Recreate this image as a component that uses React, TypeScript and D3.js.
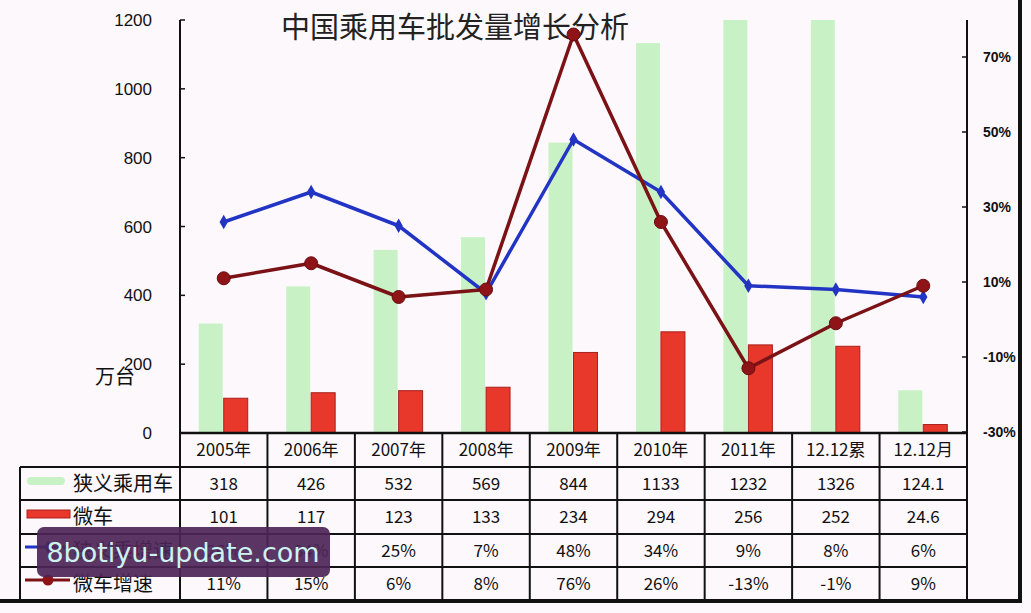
import React from "react";
import * as d3 from "d3";

const categories = ["2005年", "2006年", "2007年", "2008年", "2009年", "2010年", "2011年", "12.12累", "12.12月"];
const narrowCars = [318, 426, 532, 569, 844, 1133, 1232, 1326, 124.1];
const microCars = [101, 117, 123, 133, 234, 294, 256, 252, 24.6];
const narrowGrowth = [26, 34, 25, 7, 48, 34, 9, 8, 6];
const microGrowth = [11, 15, 6, 8, 76, 26, -13, -1, 9];
const narrowLabels = ["318", "426", "532", "569", "844", "1133", "1232", "1326", "124.1"];
const microLabels = ["101", "117", "123", "133", "234", "294", "256", "252", "24.6"];
const leftTicks = [0, 200, 400, 600, 800, 1000, 1200];
const rightTicks = [-30, -10, 10, 30, 50, 70];
const seriesNames = ["狭义乘用车", "微车", "狭义乘增速", "微车增速"];

const W = 1031, H = 613;
const L = 180, R = 967, TOP = 20, BASE = 433;
const rowY = [433, 467, 500, 534, 567, 600];

export default function App() {
  const x = d3.scaleBand<string>().domain(categories).range([L, R]).paddingInner(0).paddingOuter(0);
  const y = d3.scaleLinear().domain([0, 1200]).range([BASE, TOP]);
  const y2 = d3.scaleLinear().domain([-30, 80]).range([BASE - 1, BASE - 1 - 110 * 3.75]);
  const cx = (c: string) => (x(c) as number) + x.bandwidth() / 2;
  const bw = 24;
  const line = d3.line<number>().x((_, i) => cx(categories[i])).y((v) => y2(v));
  const font = "'Liberation Sans', Arial, sans-serif";
  const cjk = "'Noto Sans CJK SC', 'Liberation Sans', sans-serif";
  const rowCenters = rowY.slice(0, 5).map((v, i) => (v + rowY[i + 1]) / 2);
  const rows = [narrowLabels, microLabels, narrowGrowth.map((v) => v + "%"), microGrowth.map((v) => v + "%")];

  return (
    <svg width={W} height={H} style={{ position: "absolute", left: 0, top: 0 }}>
      <rect x={0} y={0} width={W} height={H} fill="#fdf8fc" />
      <defs>
        <clipPath id="plot">
          <rect x={L} y={TOP} width={R - L} height={BASE - TOP} />
        </clipPath>
      </defs>
      {/* title */}
      <text x={455} y={38} textAnchor="middle" fontFamily={cjk} fontSize={29} fill="#222">中国乘用车批发量增长分析</text>

      {/* bars */}
      <g clipPath="url(#plot)">
        {categories.map((c, i) => (
          <rect key={"g" + c} x={cx(c) - bw - 1} y={y(narrowCars[i])} width={bw} height={BASE - y(narrowCars[i])} fill="#c8f2c6" />
        ))}
      </g>
      {categories.map((c, i) => (
        <rect key={"r" + c} x={cx(c)} y={y(microCars[i])} width={bw} height={BASE - y(microCars[i])} fill="#e8372b" stroke="#a8221c" strokeWidth={1} />
      ))}

      {/* left axis */}
      <line x1={L} x2={L} y1={TOP} y2={BASE} stroke="#111" strokeWidth={2} />
      {leftTicks.map((t) => (
        <g key={"lt" + t}>
          <line x1={L} x2={L + 5} y1={y(t)} y2={y(t)} stroke="#111" strokeWidth={1.5} />
          <text x={152} y={y(t) + 6} textAnchor="end" fontFamily={font} fontSize={17} fill="#111">{t}</text>
        </g>
      ))}
      <text x={115} y={384} textAnchor="middle" fontFamily={cjk} fontSize={20} fill="#111">万台</text>

      {/* right axis */}
      <line x1={R} x2={R} y1={TOP} y2={BASE} stroke="#111" strokeWidth={2} />
      {rightTicks.map((t) => (
        <g key={"rt" + t}>
          <line x1={R - 5} x2={R} y1={y2(t)} y2={y2(t)} stroke="#111" strokeWidth={1.5} />
          <text x={983} y={y2(t) + 5} textAnchor="start" fontFamily={font} fontSize={14} fontWeight="bold" fill="#111">{t}%</text>
        </g>
      ))}

      {/* lines */}
      <path d={line(narrowGrowth) || ""} fill="none" stroke="#2234c4" strokeWidth={3.5} strokeLinejoin="round" />
      {narrowGrowth.map((v, i) => (
        <path key={"bd" + i} d={d3.symbol().type(d3.symbolDiamond).size(60)() || ""} transform={`translate(${cx(categories[i])},${y2(v)})`} fill="#2234c4" />
      ))}
      <path d={line(microGrowth) || ""} fill="none" stroke="#7a1216" strokeWidth={3.5} strokeLinejoin="round" />
      {microGrowth.map((v, i) => (
        <circle key={"mc" + i} cx={cx(categories[i])} cy={y2(v)} r={6.5} fill="#8e1418" stroke="#6a0c10" strokeWidth={1} />
      ))}

      {/* table */}
      <g stroke="#111" strokeWidth={2} fill="none">
        <line x1={L} x2={R} y1={rowY[0]} y2={rowY[0]} strokeWidth={2.5} />
        {rowY.slice(1, 5).map((yy) => (
          <line key={"h" + yy} x1={20} x2={R} y1={yy} y2={yy} />
        ))}
        <line x1={20} x2={20} y1={rowY[1]} y2={rowY[5]} />
        {categories.map((c) => (
          <line key={"v" + c} x1={x(c) as number} x2={x(c) as number} y1={rowY[0]} y2={rowY[5]} />
        ))}
        <line x1={R} x2={R} y1={rowY[0]} y2={rowY[5]} />
      </g>
      {categories.map((c) => (
        <text key={"hd" + c} x={cx(c)} y={rowCenters[0] + 6} textAnchor="middle" fontFamily={cjk} fontSize={17} fill="#111">{c}</text>
      ))}
      {rows.map((r, ri) =>
        r.map((v, i) => (
          <text key={"c" + ri + "-" + i} x={cx(categories[i])} y={rowCenters[ri + 1] + 6} textAnchor="middle" fontFamily={cjk} fontSize={17} fill="#111">{v}</text>
        ))
      )}
      {/* legend */}
      <rect x={27} y={477} width={38} height={8} rx={4} fill="#c8f2c6" />
      <rect x={27} y={510} width={43} height={8} fill="#e8372b" stroke="#a8221c" />
      <line x1={25} x2={68} y1={547} y2={547} stroke="#2234c4" strokeWidth={3} />
      <path d={d3.symbol().type(d3.symbolDiamond).size(50)() || ""} transform="translate(48,547)" fill="#2234c4" />
      <line x1={25} x2={70} y1={580} y2={580} stroke="#7a1216" strokeWidth={3} />
      <circle cx={48} cy={580} r={5.5} fill="#8e1418" />
      {seriesNames.map((n, i) => (
        <text key={"ln" + n} x={73} y={rowCenters[i + 1] + 7} fontFamily={cjk} fontSize={20} fill="#111">{n}</text>
      ))}

      {/* frame */}
      <line x1={0} x2={1022} y1={601} y2={601} stroke="#111" strokeWidth={4} />
      <line x1={1020} x2={1020} y1={0} y2={603} stroke="#111" strokeWidth={4} />

      {/* watermark */}
      <rect x={37} y={527} width={293} height={50} rx={7} fill="#4d2557" opacity={0.92} />
      <text x={183} y={562} textAnchor="middle" fontFamily="'DejaVu Sans', sans-serif" fontSize={27} fill="#cdf3f0">8botiyu-update.com</text>
    </svg>
  );
}
